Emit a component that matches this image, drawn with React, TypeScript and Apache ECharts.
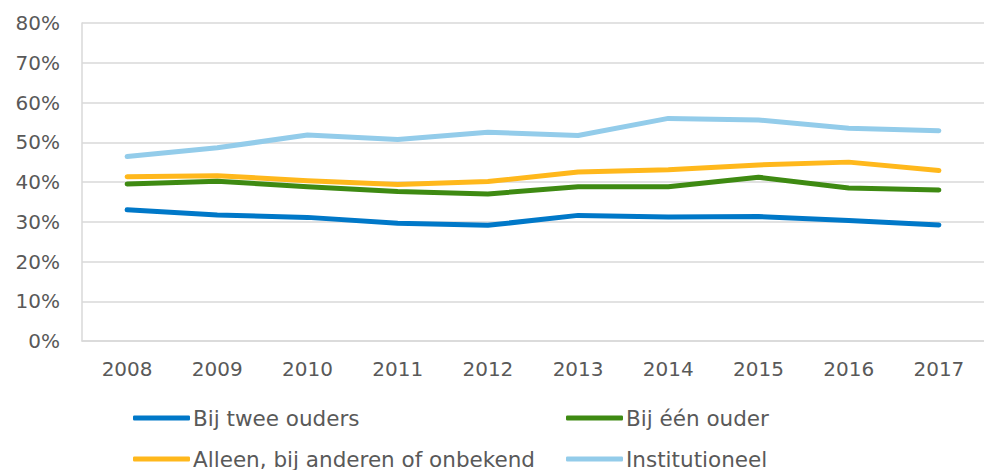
import React, { useEffect, useRef } from "react";
import * as echarts from "echarts";

const years = ["2008", "2009", "2010", "2011", "2012", "2013", "2014", "2015", "2016", "2017"];
const bijTweeOuders = [33.0, 31.7, 31.1, 29.6, 29.1, 31.6, 31.2, 31.3, 30.3, 29.2];
const bijEenOuder = [39.5, 40.2, 38.8, 37.6, 37.0, 38.8, 38.8, 41.2, 38.5, 38.0];
const alleen = [41.3, 41.6, 40.3, 39.4, 40.1, 42.5, 43.1, 44.3, 45.0, 42.9];
const institutioneel = [46.4, 48.6, 51.8, 50.7, 52.5, 51.7, 56.0, 55.6, 53.5, 52.9];
const seriesNames = ["Bij twee ouders", "Bij één ouder", "Alleen, bij anderen of onbekend", "Institutioneel"];
const colors = ["#0078C8", "#3E8A12", "#FFB81C", "#93CCEA"];

export default function App() {
  const ref = useRef<HTMLDivElement>(null);
  useEffect(() => {
    if (!ref.current) return;
    const chart = echarts.init(ref.current, null, { renderer: "svg" });
    const font = "DejaVu Sans, Verdana, sans-serif";
    const dataSets = [bijTweeOuders, bijEenOuder, alleen, institutioneel];
    const legendPos = [
      { left: 133, top: 407 },
      { left: 566, top: 407 },
      { left: 133, top: 448 },
      { left: 566, top: 448 },
    ];
    chart.setOption({
      animation: false,
      grid: { left: 82, top: 23, width: 908, height: 318, containLabel: false },
      legend: seriesNames.map((n, i) => ({
        data: [n],
        left: legendPos[i].left,
        top: legendPos[i].top,
        icon: "roundRect",
        itemWidth: 57,
        itemHeight: 5,
        padding: 0,
        textStyle: { fontFamily: font, fontSize: 21.5, color: "#595959", padding: [0, 0, 0, -2] },
      })),
      xAxis: {
        type: "category",
        data: years,
        boundaryGap: true,
        axisTick: { show: false },
        axisLine: { show: true, lineStyle: { color: "#D9D9D9", width: 1.5 } },
        axisLabel: { fontFamily: font, fontSize: 20, color: "#595959", margin: 18 },
      },
      yAxis: {
        type: "value",
        min: 0,
        max: 80,
        interval: 10,
        axisLine: { show: true, lineStyle: { color: "#D9D9D9", width: 1.5 } },
        axisTick: { show: false },
        splitLine: { show: true, lineStyle: { color: "#D9D9D9", width: 1.5 } },
        axisLabel: { fontFamily: font, fontSize: 20, color: "#595959", margin: 22, formatter: "{value}%" },
      },
      series: dataSets.map((d, i) => ({
        name: seriesNames[i],
        type: "line",
        data: d,
        symbol: "none",
        color: colors[i],
        lineStyle: { width: 5, color: colors[i], cap: "round", join: "round" },
        itemStyle: { color: colors[i] },
        z: 2 + (3 - i),
      })),
    });
    return () => chart.dispose();
  }, []);
  return <div ref={ref} style={{ position: "absolute", left: 0, top: 0, width: 984, height: 470 }} />;
}
